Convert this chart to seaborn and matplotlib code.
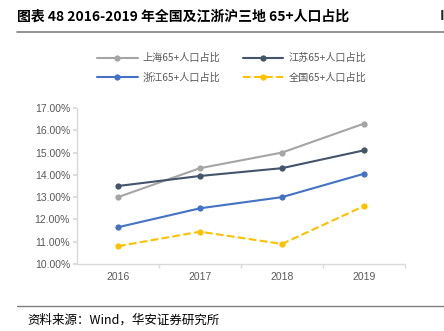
import matplotlib
matplotlib.use("Agg")
import matplotlib.pyplot as plt
import seaborn as sns
import pandas as pd
from matplotlib.ticker import FuncFormatter, FixedLocator

years = ["2016", "2017", "2018", "2019"]
shanghai = [13.0, 14.3, 15.0, 16.3]
jiangsu = [13.5, 13.95, 14.3, 15.1]
zhejiang = [11.65, 12.5, 13.0, 14.05]
national = [10.8, 11.45, 10.9, 12.6]
series_names = ["上海65+人口占比", "江苏65+人口占比", "浙江65+人口占比", "全国65+人口占比"]
yticks = [10, 11, 12, 13, 14, 15, 16, 17]

sns.set_theme(style="white")
plt.rcParams['font.family'] = ['Noto Sans CJK SC', 'DejaVu Sans']

colors = ["#A5A5A5", "#44546A", "#4472C4", "#FFC000"]
dashed = [False, False, False, True]
all_vals = [shanghai, jiangsu, zhejiang, national]

rows = []
for name, vals in zip(series_names, all_vals):
    for i, v in enumerate(vals):
        rows.append({"x": i, "v": v, "s": name})
df = pd.DataFrame(rows)

fig = plt.figure(figsize=(4.44, 3.31), dpi=100)
ax = fig.add_axes([77/444, 1-264/331, 328/444, 156/331])

for name, c, d in zip(series_names, colors, dashed):
    sub = df[df.s == name]
    sns.lineplot(data=sub, x="x", y="v", ax=ax, color=c, marker="o", markersize=4.5,
                 markeredgewidth=0, linewidth=1.5, label=name,
                 linestyle="--" if d else "-")

num_font = ['Liberation Sans', 'DejaVu Sans']
ax.set_xlim(-0.5, 3.5)
ax.set_ylim(10, 17)
ax.set_yticks(yticks)
ax.yaxis.set_major_formatter(FuncFormatter(lambda v, p: f"{v:.2f}%"))
ax.set_xticks(range(len(years)))
ax.set_xticklabels(years)
ax.xaxis.set_minor_locator(FixedLocator([0.5, 1.5, 2.5, 3.5]))
ax.tick_params(axis="x", which="major", length=0, labelsize=7.5, colors="#595959", pad=6)
ax.tick_params(axis="x", which="minor", length=3, color="#D9D9D9", bottom=True)
ax.tick_params(axis="y", which="major", length=3, color="#D9D9D9", labelsize=7.5, labelcolor="#595959", left=True, pad=2)
for t in ax.get_xticklabels() + ax.get_yticklabels():
    t.set_family(num_font)
ax.set_xlabel("")
ax.set_ylabel("")
for s in ["top", "right"]:
    ax.spines[s].set_visible(False)
for s in ["left", "bottom"]:
    ax.spines[s].set_color("#D9D9D9")
    ax.spines[s].set_linewidth(1)

h, l = ax.get_legend_handles_labels()
ax.get_legend().remove()
order = [0, 2, 1, 3]
fig.legend([h[i] for i in order], [l[i] for i in order], ncol=2, loc="upper left",
           bbox_to_anchor=(97/444, 1-53/331), frameon=False, borderpad=0, borderaxespad=0,
           fontsize=7.3, labelcolor="#595959", handlelength=4.0, columnspacing=2.2,
           handletextpad=0.5, labelspacing=0.95)

fig.text(17/444, 1-16/331, "图表 48 2016-2019 年全国及江浙沪三地 65+人口占比", fontsize=10,
         fontweight="semibold", va="center", ha="left", color="#000000")
fig.text(440/444, 1-16/331, "I", fontsize=10, fontweight="bold", va="center", ha="left")
fig.add_artist(plt.Line2D([17/444, 1], [1-32/331, 1-32/331], color="#7F7F7F", linewidth=1.2))
fig.add_artist(plt.Line2D([17/444, 1], [1-306/331, 1-306/331], color="#7F7F7F", linewidth=1.0))
fig.text(27/444, 1-320/331, "资料来源：Wind，华安证券研究所", fontsize=9, va="center", ha="left", color="#000000")

fig.savefig("out.png", dpi=100)
